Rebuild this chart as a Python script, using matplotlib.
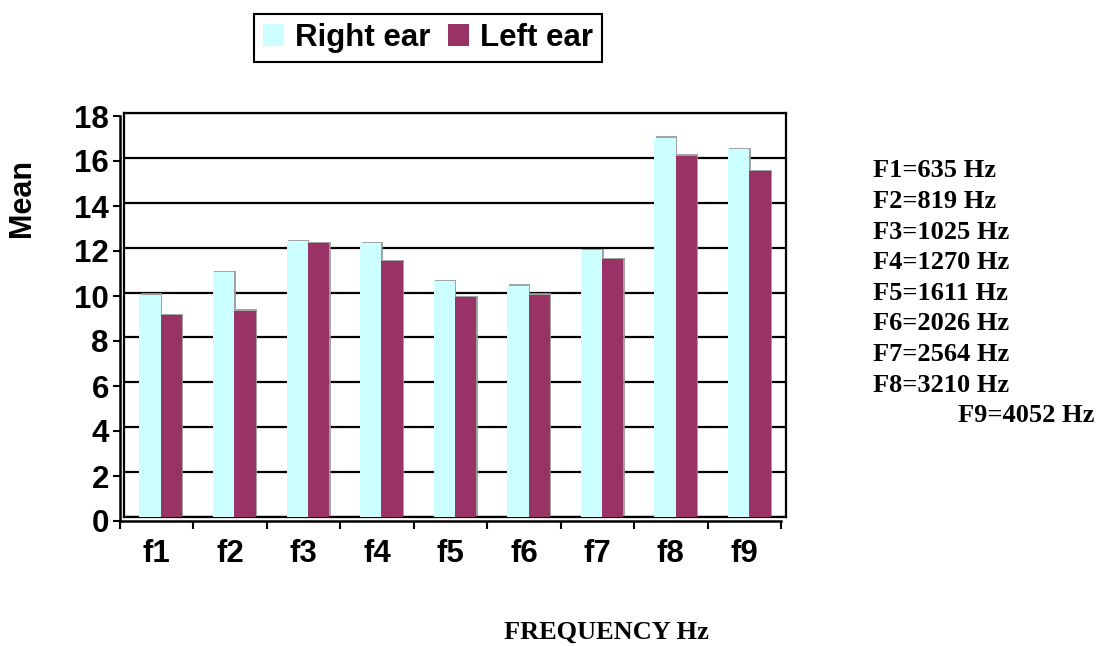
# mean hearing values per frequency band, right vs left ear

import numpy as np
import matplotlib
matplotlib.use("Agg")
import matplotlib.pyplot as plt
import matplotlib.patheffects as pe
from matplotlib.patches import Patch

categories = ["f1", "f2", "f3", "f4", "f5", "f6", "f7", "f8", "f9"]
right_ear = [9.9, 10.9, 12.3, 12.2, 10.5, 10.3, 11.9, 16.9, 16.4]
left_ear = [9.0, 9.2, 12.2, 11.4, 9.8, 9.9, 11.5, 16.1, 15.4]
freq_notes = ["F1=635 Hz", "F2=819 Hz", "F3=1025 Hz", "F4=1270 Hz", "F5=1611 Hz",
              "F6=2026 Hz", "F7=2564 Hz", "F8=3210 Hz", "F9=4052 Hz"]
y_ticks = [0, 2, 4, 6, 8, 10, 12, 14, 16, 18]

W, H = 1104, 646
SANS = "Liberation Sans"
SERIF = "Liberation Serif"
RIGHT_C = "#CCFFFF"
LEFT_C = "#993366"


def box(l, t, r, b):
    return [l / W, 1 - b / H, (r - l) / W, (b - t) / H]


fig = plt.figure(figsize=(W / 100, H / 100), dpi=100)

# back wall with grid and bars
ax = fig.add_axes(box(124, 113, 786, 517))
x = np.arange(len(categories))
w = 0.29
shadow = [pe.SimplePatchShadow(offset=(1, 1), shadow_rgbFace="0.6", alpha=0.9), pe.Normal()]
ax.bar(x - w / 2, right_ear, w, color=RIGHT_C, path_effects=shadow, zorder=3)
ax.bar(x + w / 2, left_ear, w, color=LEFT_C, path_effects=shadow, zorder=3)
ax.set_xlim(-0.5, len(categories) - 0.5)
ax.set_ylim(0, 18)
ax.set_yticks(y_ticks)
ax.grid(axis="y", color="black", linewidth=1.6)
ax.set_axisbelow(True)
ax.tick_params(left=False, bottom=False, labelleft=False, labelbottom=False)
ax.set_xticks([])
for s in ax.spines.values():
    s.set_linewidth(1.6)
    s.set_color("black")

# front axis lines carrying the ticks and labels
axf = fig.add_axes(box(120, 116, 781, 521), facecolor="none")
axf.set_xlim(-0.5, len(categories) - 0.5)
axf.set_ylim(0, 18)
axf.spines["top"].set_visible(False)
axf.spines["right"].set_visible(False)
axf.spines["left"].set_linewidth(1.8)
axf.spines["bottom"].set_linewidth(1.8)
axf.set_yticks(y_ticks)
axf.set_yticklabels([str(v) for v in y_ticks], fontfamily=SANS, fontweight="bold", fontsize=22.5)
axf.tick_params(axis="y", length=5, width=1.5, pad=3)
axf.set_xticks(x)
axf.set_xticklabels(categories, fontfamily=SANS, fontweight="bold", fontsize=22.5)
axf.tick_params(axis="x", which="major", length=0, pad=13)
axf.set_xticks(np.arange(len(categories) + 1) - 0.5, minor=True)
axf.tick_params(axis="x", which="minor", length=6, width=1.5)

fig.text(22 / W, 1 - 198 / H, "Mean", rotation=90, ha="center", va="center",
         fontfamily=SANS, fontweight="bold", fontsize=22)
fig.text(606 / W, 1 - 632 / H, "FREQUENCY Hz", ha="center", va="center",
         fontfamily=SERIF, fontweight="bold", fontsize=19)

for i, note in enumerate(freq_notes):
    xl = 958 if i == len(freq_notes) - 1 else 873
    fig.text(xl / W, 1 - (171 + i * 30.6) / H, note, ha="left", va="center",
             fontfamily=SERIF, fontweight="bold", fontsize=19)

handles = [Patch(facecolor=RIGHT_C, label="Right ear"), Patch(facecolor=LEFT_C, label="Left ear")]
leg = fig.legend(handles=handles, loc="center", bbox_to_anchor=(428 / W, 1 - 38 / H), ncol=2,
                 prop={"family": SANS, "weight": "bold", "size": 22.5},
                 handlelength=0.68, handleheight=0.68, handletextpad=0.35, columnspacing=0.55,
                 borderpad=0.3, borderaxespad=0, fancybox=False, edgecolor="black", framealpha=1)
leg.get_frame().set_linewidth(1.5)

fig.savefig("out.png", dpi=100)
